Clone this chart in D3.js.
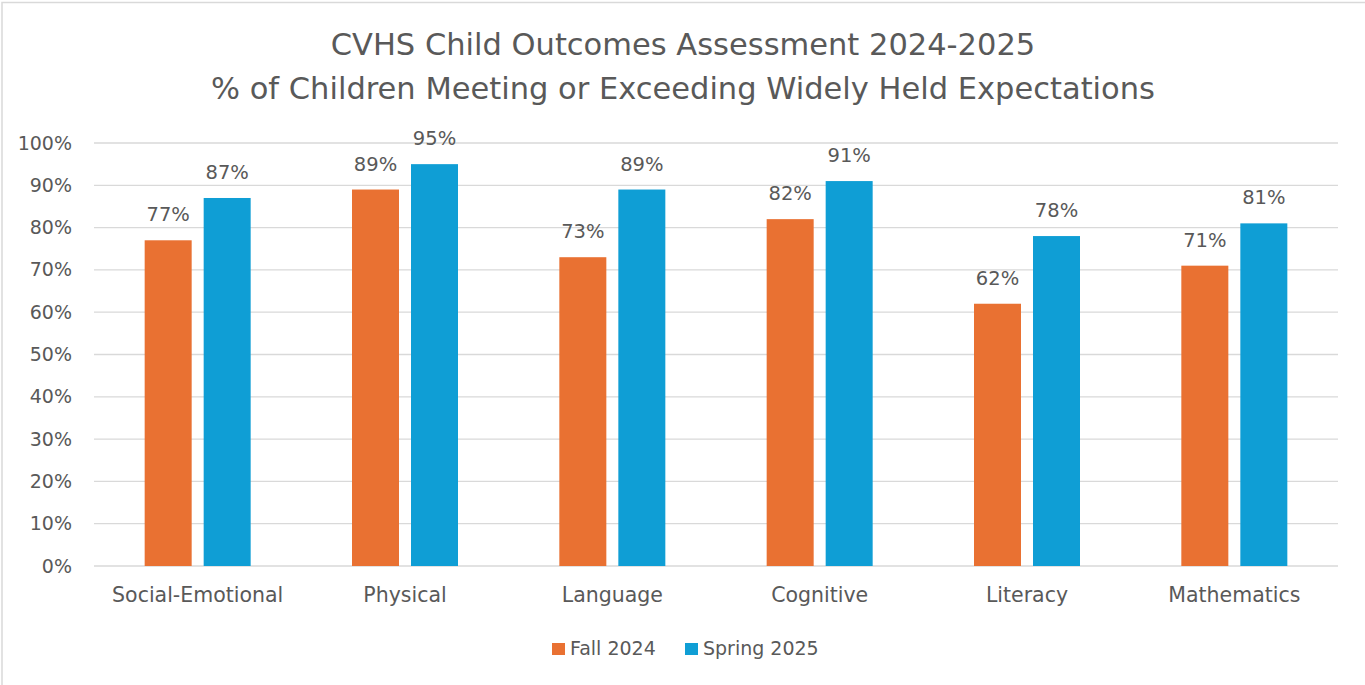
<!DOCTYPE html>
<html>
<head>
<meta charset="utf-8">
<script src="https://cdn.jsdelivr.net/npm/d3@7"></script>
<style>
    body { margin: 0; background: #fff; }
    svg { display: block; font-family: "DejaVu Sans", "Noto Sans", sans-serif; }
</style>
</head>
<body>
<svg id="chart" width="1365" height="685"></svg>
<script>
"use strict";

const CATEGORIES = ['Social-Emotional', 'Physical', 'Language', 'Cognitive', 'Literacy', 'Mathematics'];
const FALL_2024 = [77, 89, 73, 82, 62, 71];
const SPRING_2025 = [87, 95, 89, 91, 78, 81];
const SERIES_NAMES = ['Fall 2024', 'Spring 2025'];
const Y_TICKS = [0, 10, 20, 30, 40, 50, 60, 70, 80, 90, 100];
const TITLE_LINES = ['CVHS Child Outcomes Assessment 2024-2025',
    '% of Children Meeting or Exceeding Widely Held Expectations'];

const COLORS = ['#E97132', '#0F9ED5'];
const TEXT_COLOR = '#595959';

const svg = d3.select('#chart');
const WIDTH = 1365;

// chart frame (right and bottom edges run off the picture)
svg.append('rect')
    .attr('x', 2).attr('y', 2.5)
    .attr('width', WIDTH + 10).attr('height', 700)
    .attr('fill', '#fff').attr('stroke', '#d9d9d9').attr('stroke-width', 1.5);

// title
svg.append('g').selectAll('text').data(TITLE_LINES).join('text')
    .attr('x', 683).attr('y', (d, i) => 55 + i * 44)
    .attr('text-anchor', 'middle')
    .attr('font-size', 30.5)
    .attr('fill', TEXT_COLOR)
    .text(d => d);

const plot = {left: 94, right: 1338, top: 143, bottom: 566};

const x = d3.scaleBand().domain(CATEGORIES).range([plot.left, plot.right]);
const y = d3.scaleLinear().domain([0, 100]).range([plot.bottom, plot.top]);

// gridlines
svg.append('g').selectAll('line').data(Y_TICKS).join('line')
    .attr('x1', plot.left).attr('x2', plot.right)
    .attr('y1', d => y(d)).attr('y2', d => y(d))
    .attr('stroke', '#d9d9d9').attr('stroke-width', 1.3);

// y axis labels
const yAxis = d3.axisLeft(y).tickValues(Y_TICKS).tickFormat(d => d + '%').tickSize(0).tickPadding(0);
const yAxisGroup = svg.append('g').attr('transform', `translate(${plot.left - 22}, 0)`).call(yAxis)
    .attr('font-family', null).attr('font-size', 19);
yAxisGroup.select('.domain').remove();
yAxisGroup.selectAll('text').attr('fill', TEXT_COLOR);

// x axis labels
const xAxis = d3.axisBottom(x).tickSize(0).tickPadding(0);
const xAxisGroup = svg.append('g').attr('transform', `translate(0, ${plot.bottom + 21})`).call(xAxis)
    .attr('font-family', null).attr('font-size', 20.5);
xAxisGroup.select('.domain').remove();
xAxisGroup.selectAll('text').attr('fill', TEXT_COLOR);

// bars
const BAR_WIDTH = 47;
const BAR_GAP = 12;
const seriesData = [FALL_2024, SPRING_2025];
seriesData.forEach((values, s) => {
    const offset = s === 0 ? -BAR_GAP / 2 - BAR_WIDTH : BAR_GAP / 2;
    const group = svg.append('g');
    group.selectAll('rect').data(values).join('rect')
        .attr('x', (d, i) => x(CATEGORIES[i]) + x.bandwidth() / 2 + offset)
        .attr('y', d => y(d))
        .attr('width', BAR_WIDTH)
        .attr('height', d => y(0) - y(d))
        .attr('fill', COLORS[s]);
    group.selectAll('text').data(values).join('text')
        .attr('x', (d, i) => x(CATEGORIES[i]) + x.bandwidth() / 2 + offset + BAR_WIDTH / 2)
        .attr('y', d => y(d) - 19)
        .attr('text-anchor', 'middle')
        .attr('font-size', 19.5)
        .attr('fill', TEXT_COLOR)
        .text(d => d + '%');
});

// legend
const legend = svg.append('g').attr('transform', 'translate(552, 655)');
const legendX = [0, 133];
SERIES_NAMES.forEach((name, i) => {
    legend.append('rect')
        .attr('x', legendX[i]).attr('y', -12)
        .attr('width', 13).attr('height', 12)
        .attr('fill', COLORS[i]);
    legend.append('text')
        .attr('x', legendX[i] + 18).attr('y', 0)
        .attr('font-size', 19)
        .attr('fill', TEXT_COLOR)
        .text(name);
});
</script>
</body>
</html>
